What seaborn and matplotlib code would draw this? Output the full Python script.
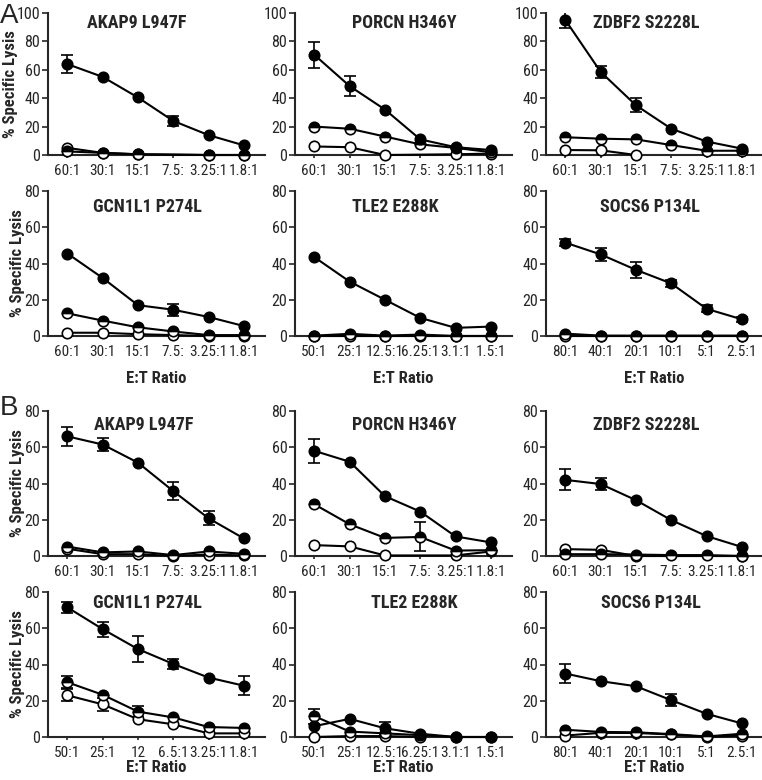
import numpy as np
import pandas as pd
import matplotlib
matplotlib.use("Agg")
import matplotlib.pyplot as plt
import seaborn as sns

nan = np.nan

# x tick labels
ratios_60 = ["60:1", "30:1", "15:1", "7.5:", "3.25:1", "1.8:1"]
ratios_50 = ["50:1", "25:1", "12.5:1", "6.25:1", "3.1:1", "1.5:1"]
ratios_80 = ["80:1", "40:1", "20:1", "10:1", "5:1", "2.5:1"]
ratios_50b = ["50:1", "25:1", "12", "6.5:1", "3.25:1", "1.8:1"]

titles = ["AKAP9 L947F", "PORCN H346Y", "ZDBF2 S2228L",
          "GCN1L1 P274L", "TLE2 E288K", "SOCS6 P134L"]

# ---- panel A ----
a_akap9_filled = [64, 55, 40.5, 24, 14, 6.8]
a_akap9_filled_err = [6.5, nan, nan, 3.5, nan, nan]
a_akap9_half = [2.5, 1.5, 0.5, nan, 0, 0]
a_akap9_open = [5, 1.5, 0.5, nan, 0, 0]

a_porcn_filled = [70.5, 48.5, 32, 11, 5.5, 3.5]
a_porcn_filled_err = [9, 7, nan, nan, nan, nan]
a_porcn_half = [20, 18.5, 13, 7.5, 5, 2]
a_porcn_open = [6, 5.5, 0, nan, 0.5, 1]

a_zdbf2_filled = [95, 58.5, 35, 18.5, 9.5, 4.5]
a_zdbf2_filled_err = [5.5, 4, 5, nan, nan, nan]
a_zdbf2_half = [12.5, 11.5, 11, 7, 3, 3]
a_zdbf2_open = [3.5, 3.3, 0, nan, nan, nan]

a_gcn1l1_filled = [45.5, 32, 17, 14.5, 10.5, 5.5]
a_gcn1l1_filled_err = [nan, nan, nan, 3.2, nan, nan]
a_gcn1l1_half = [12.5, 8.5, 4.8, 2.5, 0.5, 0.5]
a_gcn1l1_open = [1.8, 1.8, 1, 0.5, 0, 0]

a_tle2_filled = [43.5, 30, 20, 10, 4.5, 5.2]
a_tle2_half = [0.2, 1.2, 0.2, 0.8, 0, 0]
a_tle2_open = [0, 0, 0, 0, 0, 0]

a_socs6_filled = [51.5, 45, 36.5, 29, 15, 9.2]
a_socs6_filled_err = [2, 3.5, 4.3, 1.8, 2, 1.5]
a_socs6_half = [1.3, 0.2, 0.2, 0.2, 0.2, 0.2]
a_socs6_open = [0, 0, 0, 0, 0, 0]

# ---- panel B ----
b_akap9_filled = [66, 61.5, 51.5, 35.8, 20.8, 9.7]
b_akap9_filled_err = [5.3, 3.7, nan, 4.9, 3.9, nan]
b_akap9_half = [5.2, 2, 2.5, 0.5, 2.5, 1.2]
b_akap9_open = [4, 1, 1, 0, 0.8, 0.3]

b_porcn_filled = [58, 52, 33, 24.5, 10.8, 7.5]
b_porcn_filled_err = [6.8, nan, nan, nan, nan, nan]
b_porcn_half = [28.5, 17.5, 10, 10.5, 3, 3.2]
b_porcn_half_err = [nan, nan, nan, 8, nan, nan]
b_porcn_open = [6, 5.3, 0.3, nan, 0.3, 2.5]

b_zdbf2_filled = [42, 39.7, 30.8, 19.8, 11, 5]
b_zdbf2_filled_err = [5.8, 3.5, nan, nan, nan, nan]
b_zdbf2_half = [1, 1, 0.8, 0.5, 0.5, 0]
b_zdbf2_open = [3.8, 3.4, 0, nan, nan, 0]

b_gcn1l1_filled = [71.5, 59.5, 48.5, 40.3, 32.8, 28.3]
b_gcn1l1_filled_err = [3.2, 4.2, 7, 2.9, nan, 5.3]
b_gcn1l1_half = [30.2, 23.3, 14, 10.8, 5.5, 5]
b_gcn1l1_half_err = [3.3, nan, 3, nan, nan, nan]
b_gcn1l1_open = [23, 18, 9.8, 7, 2, 2]
b_gcn1l1_open_err = [3.3, 3.5, nan, nan, nan, nan]

b_tle2_filled = [6, 10, 4.8, 1.8, 0, 0]
b_tle2_filled_err = [nan, nan, 3.5, nan, nan, nan]
b_tle2_half = [11.5, 3, 2, 1, 0, 0]
b_tle2_half_err = [4.2, nan, nan, nan, nan, nan]
b_tle2_open = [0, 0.5, 0.5, 0, nan, nan]

b_socs6_filled = [35, 30.8, 28, 20.3, 12.8, 7.5]
b_socs6_filled_err = [5.2, nan, nan, 3.4, nan, nan]
b_socs6_half = [4, 2.8, 2.6, 1.6, 0.3, 1.8]
b_socs6_open = [0.8, 2.3, 2.2, 1.4, 0, 0.8]

none6 = [nan] * 6

# (labels, filled, filled_err, half, half_err, open, open_err)
rows = [
    [(ratios_60, a_akap9_filled, a_akap9_filled_err, a_akap9_half, none6, a_akap9_open, none6),
     (ratios_60, a_porcn_filled, a_porcn_filled_err, a_porcn_half, none6, a_porcn_open, none6),
     (ratios_60, a_zdbf2_filled, a_zdbf2_filled_err, a_zdbf2_half, none6, a_zdbf2_open, none6)],
    [(ratios_60, a_gcn1l1_filled, a_gcn1l1_filled_err, a_gcn1l1_half, none6, a_gcn1l1_open, none6),
     (ratios_50, a_tle2_filled, none6, a_tle2_half, none6, a_tle2_open, none6),
     (ratios_80, a_socs6_filled, a_socs6_filled_err, a_socs6_half, none6, a_socs6_open, none6)],
    [(ratios_60, b_akap9_filled, b_akap9_filled_err, b_akap9_half, none6, b_akap9_open, none6),
     (ratios_60, b_porcn_filled, b_porcn_filled_err, b_porcn_half, b_porcn_half_err, b_porcn_open, none6),
     (ratios_60, b_zdbf2_filled, b_zdbf2_filled_err, b_zdbf2_half, none6, b_zdbf2_open, none6)],
    [(ratios_50b, b_gcn1l1_filled, b_gcn1l1_filled_err, b_gcn1l1_half, b_gcn1l1_half_err, b_gcn1l1_open, b_gcn1l1_open_err),
     (ratios_50, b_tle2_filled, b_tle2_filled_err, b_tle2_half, b_tle2_half_err, b_tle2_open, none6),
     (ratios_80, b_socs6_filled, b_socs6_filled_err, b_socs6_half, none6, b_socs6_open, none6)],
]
row_titles = [titles[:3], titles[3:], titles[:3], titles[3:]]
row_ymax = [100, 80, 80, 80]

sns.set_style("ticks")
# condensed face, close to the original Helvetica Condensed
plt.rcParams["font.family"] = ["Roboto Condensed", "Liberation Sans", "DejaVu Sans"]
plt.rcParams["axes.linewidth"] = 1.5

W, H = 762, 780
fig = plt.figure(figsize=(W / 100, H / 100), dpi=100)

col_left = [48, 295, 546]
col_w = 217
row_px = [(13, 155), (191, 336), (411, 556), (592, 737)]
title_y = [0.93, 0.89, 0.90, 0.925]
title_x = [[0.41, 0.505, 0.46], [0.46, 0.46, 0.48],
           [0.44, 0.505, 0.46], [0.46, 0.55, 0.485]]

styles = {
    "open": dict(mfc="white", fillstyle="full"),
    "half": dict(mfc="black", fillstyle="top", markerfacecoloralt="white"),
    "filled": dict(mfc="black", fillstyle="full"),
}


def draw_series(ax, pos, y, err, key):
    df = pd.DataFrame({"x": pos, "y": y}).dropna()
    sns.lineplot(data=df, x="x", y="y", ax=ax, color="black", lw=1.5,
                 marker="o", ms=7.5, mec="black", mew=1.2, legend=False,
                 errorbar=None, clip_on=False, zorder=3, **styles[key])
    y = np.asarray(y, float)
    err = np.asarray(err, float)
    m = ~np.isnan(err)
    if m.any():
        ax.errorbar(pos[m], y[m], yerr=err[m], fmt="none", ecolor="black",
                    elinewidth=1.2, capsize=4.5, capthick=1.2, zorder=2)


for r, (top, bot) in enumerate(row_px):
    for c in range(3):
        labels, f, fe, h, he, o, oe = rows[r][c]
        ax = fig.add_axes([col_left[c] / W, 1 - bot / H, col_w / W, (bot - top) / H])
        pos = np.arange(len(labels))
        draw_series(ax, pos, o, oe, "open")
        draw_series(ax, pos, h, he, "half")
        draw_series(ax, pos, f, fe, "filled")

        ymax = row_ymax[r]
        ax.set_ylim(0, ymax)
        ax.set_yticks(np.arange(0, ymax + 1, 20))
        ax.set_xlim(-0.55, 5.6)
        ax.set_xticks(pos)
        ax.set_xticklabels(labels)
        ax.tick_params(axis="y", labelsize=11.5, length=4, width=1.2, pad=1.5)
        ax.tick_params(axis="x", labelsize=11, length=2.5, width=1.2, pad=4)
        sns.despine(ax=ax)

        ax.text(title_x[r][c], title_y[r], row_titles[r][c], transform=ax.transAxes,
                ha="center", va="center", fontsize=13, fontweight="bold")

        if c == 0:
            ax.set_ylabel("% Specific Lysis", fontsize=12, fontweight="bold")
            ax.yaxis.set_label_coords(-0.14 if r == 0 else -0.106, 0.5)
        else:
            ax.set_ylabel("")
        if r in (1, 3):
            ax.set_xlabel("E:T Ratio", fontsize=12, fontweight="bold")
            ax.xaxis.set_label_coords(0.5, -0.24 if r == 1 else -0.16)
        else:
            ax.set_xlabel("")

fig.text(0 / W, 1 - 3 / H, "A", fontsize=20, va="top", ha="left", family=["Liberation Sans", "DejaVu Sans"])
fig.text(0 / W, 1 - 395 / H, "B", fontsize=20, va="top", ha="left", family=["Liberation Sans", "DejaVu Sans"])

fig.savefig("out.png", dpi=100)
